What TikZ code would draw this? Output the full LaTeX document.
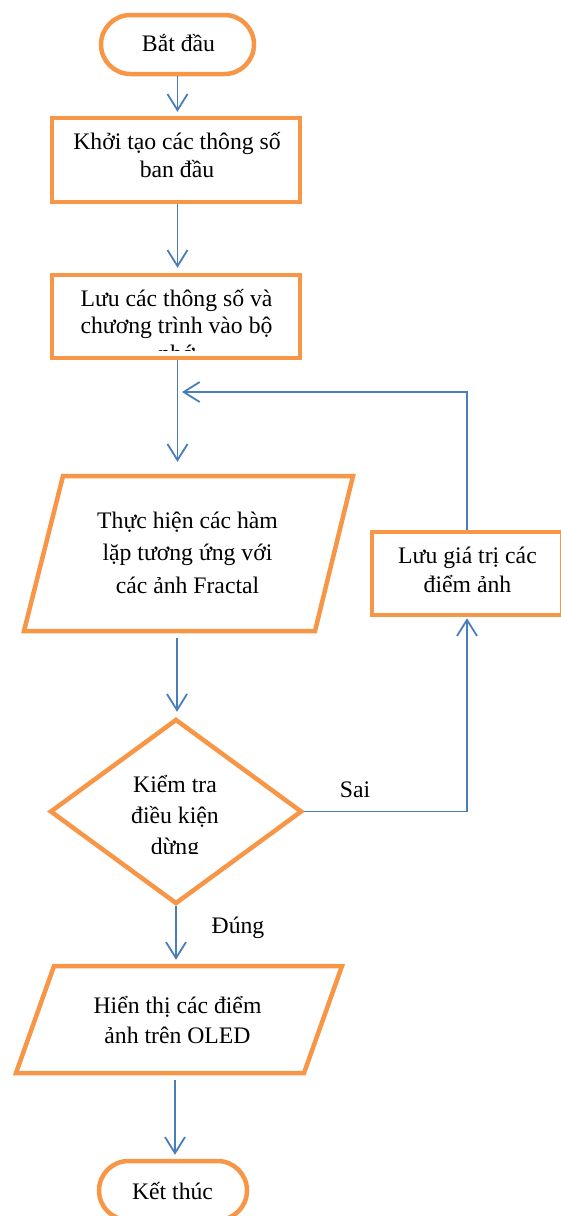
\documentclass[tikz,border=0pt]{standalone}
\usepackage{fontspec}
\setmainfont{Liberation Serif}
\usetikzlibrary{shapes.geometric,arrows.meta}
\definecolor{orng}{HTML}{F79646}
\definecolor{blu}{HTML}{4A7EBB}
\begin{document}
\begin{tikzpicture}[x=1pt,y=-1pt,
  shapeline/.style={draw=orng, line width=4.5pt, line join=miter},
  term/.style={shapeline, rectangle, rounded corners=29.5pt, minimum width=153pt, minimum height=59pt, inner sep=0pt},
  procbox/.style={shapeline, rectangle, minimum width=248pt, minimum height=84pt, inner sep=0pt},
  ghost/.style={rectangle, inner sep=0pt, outer sep=2.25pt, minimum width=10pt},
  decision/.style={shapeline, diamond, minimum width=252pt, minimum height=185pt, inner sep=0pt},
  txt/.style={font=\fontsize{23.7}{28}\selectfont, align=center, anchor=base, inner sep=0pt},
  conn/.style={draw=blu, line width=1.8pt, -{Straight Barb[length=16pt,width=20pt,line width=1.8pt]}},
  lbl/.style={font=\fontsize{23.7}{28}\selectfont, anchor=base, inner sep=0pt}
]
\useasboundingbox (0,0) rectangle (560,1216);

% Start
\node[term] (start) at (177.5,44.5) {};
\node[txt] (startt) at (178.5,51) {Bắt đầu};

% Box 2 (anchor base = last line baseline)
\node[procbox] (b2) at (176,160) {};
\node[txt, font=\fontsize{23.7}{28}\selectfont] (b2t) at (177,177) {Khởi tạo các thông số\\ban đầu};

% Box 3 (text clipped by the box)
\node[procbox, minimum height=83pt] (b3) at (176,316.5) {};
\begin{scope}
  \clip (54,277) rectangle (298,350.5);
  \node[txt, font=\fontsize{23.7}{27.5}\selectfont] (b3t) at (176.5,361) {Lưu các thông số và\\chương trình vào bộ\\nhớ};
\end{scope}

% Parallelogram 1
\node[ghost, minimum height=155pt] (p1) at (177,553.5) {};
\draw[shapeline] (63,476) -- (353,476) -- (315,631) -- (24,631) -- cycle;
\node[txt, font=\fontsize{23.7}{32.5}\selectfont] (p1t) at (187.5,593) {Thực hiện các hàm\\lặp tương ứng với\\các ảnh Fractal};

% Right box
\node[procbox, minimum width=190pt, minimum height=83pt] (rb) at (467,573.5) {};
\node[txt, font=\fontsize{23.7}{28.5}\selectfont] (rbt) at (467.5,592) {Lưu giá trị các\\điểm ảnh};

% Decision
\node[decision] (dia) at (176,811.5) {};
\begin{scope}
  \clip (60,740) rectangle (300,853);
  \node[txt, font=\fontsize{23.7}{31}\selectfont] (diat) at (175,854) {Kiểm tra\\điều kiện\\dừng};
\end{scope}

% Parallelogram 2
\node[ghost, minimum height=107pt] (p2) at (175,1019.5) {};
\draw[shapeline] (54,966) -- (342,966) -- (304,1073) -- (16,1073) -- cycle;
\node[txt, font=\fontsize{23.7}{30}\selectfont] (p2t) at (177.5,1043) {Hiển thị các điểm\\ảnh trên OLED};

% End
\node[term, minimum width=148pt] (end) at (173,1190.5) {};
\node[txt] (endt) at (172.5,1199) {Kết thúc};

% Labels
\node[lbl] (sai) at (355,797) {Sai};
\node[lbl] (dung) at (238,933) {Đúng};

% Connectors
\coordinate (loop) at (182,392);
\draw[conn, shorten >=4pt] (start.south) -- (start.south |- b2.north);
\draw[conn, shorten >=5pt] (b2.south -| start.south) -- (start.south |- b3.north);
\draw[conn, shorten >=12pt] (b3.south -| start.south) -- (start.south |- p1.north);
\draw[conn, shorten <=5pt, shorten >=5pt] (p1.south) -- (p1.south |- dia.north);
\draw[conn] (rb.north) -- (rb.north |- loop) -- (loop);
\draw[conn, shorten >=1pt] (dia.east) -- (dia.east -| rb.south) -- (rb.south);
\draw[conn, shorten >=4pt] (dia.south) -- (dia.south |- p2.north);
\draw[conn, shorten <=5pt, shorten >=4pt] (p2.south) -- (p2.south |- end.north);
\end{tikzpicture}
\end{document}
